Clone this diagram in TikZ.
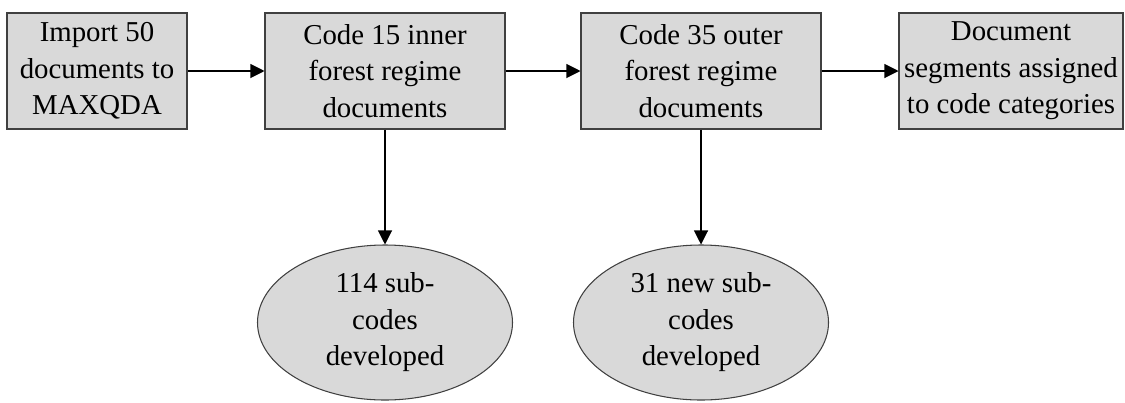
\documentclass[tikz,border=0pt]{standalone}
\usepackage{fontspec}
\setmainfont{Liberation Serif}
\usetikzlibrary{arrows.meta,shapes.geometric}
\definecolor{boxgray}{RGB}{217,217,217}

\begin{document}
\begin{tikzpicture}[font=\fontsize{16.4}{20.8}\selectfont,
  taskbox/.style={rectangle,fill=boxgray,draw=black!75,line width=.6pt,minimum height=2.32cm,inner sep=0pt,align=center},
  resultoval/.style={ellipse,fill=boxgray,draw=black!75,line width=.6pt,minimum width=5.1cm,minimum height=3.1cm,inner sep=0pt,align=center},
  flowarrow/.style={-{Triangle[length=.28cm,width=.28cm]},black,line width=.6pt}]
\useasboundingbox (0,0) rectangle (22.5,8.04);
\node[taskbox,minimum width=3.6cm] (import) at (1.94,6.62) {Import 50\\documents to\\MAXQDA};
\node[taskbox,minimum width=4.8cm] (inner) at (7.7,6.62) {Code 15 inner\\forest regime\\documents};
\node[taskbox,minimum width=4.8cm] (outer) at (14.02,6.62) {Code 35 outer\\forest regime\\documents};
\node[taskbox,minimum width=4.48cm] (segments) at (20.22,6.62) {Document\\segments assigned\\to code categories};
\node[resultoval] (innercodes) at (7.7,1.59) {114 sub-\\codes\\developed};
\node[resultoval] (outercodes) at (14.02,1.59) {31 new sub-\\codes\\developed};
\draw[flowarrow] (import) -- (inner);
\draw[flowarrow] (inner) -- (outer);
\draw[flowarrow] (outer) -- (segments);
\draw[flowarrow] (inner) -- (innercodes);
\draw[flowarrow] (outer) -- (outercodes);
\end{tikzpicture}
\end{document}
